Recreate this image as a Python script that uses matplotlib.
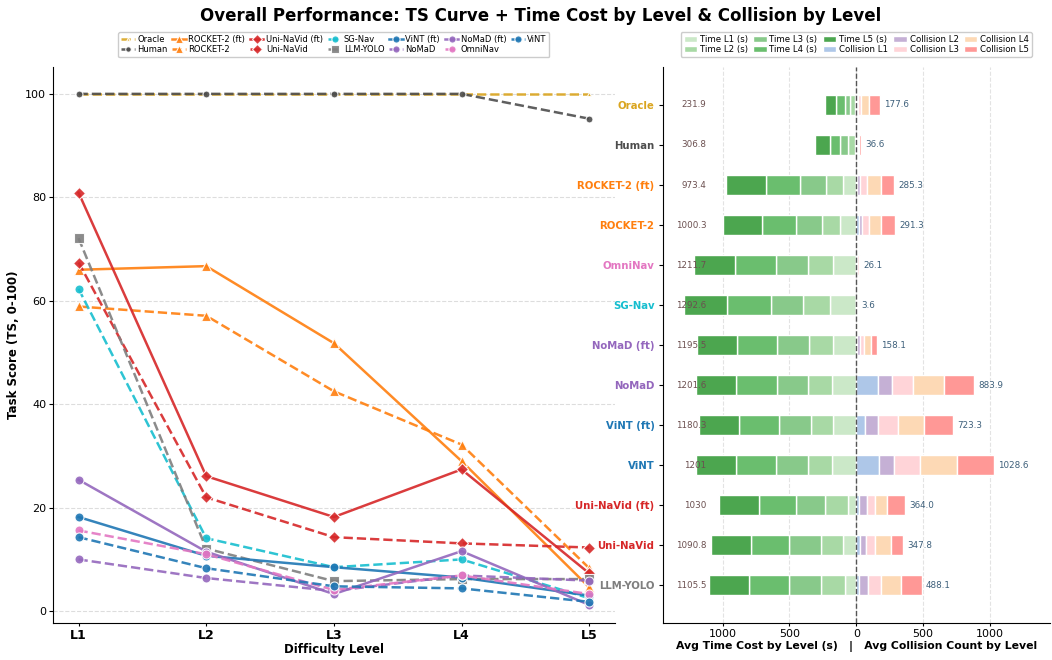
import matplotlib
matplotlib.use("Agg")
import matplotlib.pyplot as plt
import numpy as np

# ---- task score curves (left panel) ----
levels = ['L1', 'L2', 'L3', 'L4', 'L5']

# legend order (column-major, 7 columns)
curve_names = ['Oracle', 'Human', 'ROCKET-2 (ft)', 'ROCKET-2', 'Uni-NaVid (ft)', 'Uni-NaVid',
               'SG-Nav', 'LLM-YOLO', 'ViNT (ft)', 'NoMaD', 'NoMaD (ft)', 'OmniNav', 'ViNT']
ts_oracle = [100, 100, 100, 100, 100]
ts_human = [100, 100, 100, 100, 95.2]
ts_rocket_ft = [66.0, 66.7, 51.8, 29.0, 4.6]
ts_rocket = [58.9, 57.1, 42.5, 32.2, 8.3]
ts_uninavid_ft = [80.9, 26.1, 18.2, 27.4, 7.3]
ts_uninavid = [67.4, 22.0, 14.3, 13.1, 12.3]
ts_sgnav = [62.3, 14.1, 8.5, 10.0, 2.5]
ts_llmyolo = [72.1, 12.1, 5.8, 6.2, 6.2]
ts_vint_ft = [18.2, 10.7, 8.5, 6.5, 3.0]
ts_nomad = [10.0, 6.4, 3.9, 6.9, 5.9]
ts_nomad_ft = [25.4, 11.5, 3.3, 11.6, 1.2]
ts_omninav = [15.6, 11.0, 4.1, 6.9, 3.3]
ts_vint = [14.3, 8.3, 4.8, 4.4, 1.8]

# ---- time / collision per level (right panel), top to bottom ----
methods = ['Oracle', 'Human', 'ROCKET-2 (ft)', 'ROCKET-2', 'OmniNav', 'SG-Nav', 'NoMaD (ft)',
           'NoMaD', 'ViNT (ft)', 'ViNT', 'Uni-NaVid (ft)', 'Uni-NaVid', 'LLM-YOLO']
time_l1 = [12, 10, 102, 125, 174, 197, 174, 179, 172, 179, 65, 102, 87]
time_l2 = [33, 50, 125, 129, 187, 199, 179, 179, 169, 179, 167, 162, 177]
time_l3 = [43, 61, 194, 197, 242, 239, 237, 239, 239, 242, 222, 237, 239]
time_l4 = [64, 76, 251, 254, 304, 334, 306, 304, 299, 301, 274, 286, 299]
time_l5 = [79.9, 109.8, 301.4, 295.3, 304.7, 323.6, 299.5, 300.6, 301.3, 300, 302, 303.8, 303.5]
time_total = [231.9, 306.8, 973.4, 1000.3, 1211.7, 1292.6, 1195.5, 1201.6, 1180.3, 1201, 1030, 1090.8, 1105.5]

coll_l1 = [2, 0.5, 7, 17, 1, 0.5, 7, 159, 65, 169, 20, 27, 22]
coll_l2 = [8, 1, 17, 22, 2, 0.5, 20, 110, 95, 112, 62, 45, 67]
coll_l3 = [25, 8, 55, 57, 18, 1, 32, 157, 149, 199, 60, 67, 97]
coll_l4 = [57, 7, 102, 88, 3, 1, 50, 229, 194, 271, 90, 122, 149]
coll_l5 = [85.6, 20.1, 104.3, 107.3, 2.1, 0.6, 49.1, 228.9, 220.3, 277.6, 132, 86.8, 153.1]

colors = {
    'Oracle': '#DAA520', 'Human': '#4d4d4d',
    'ROCKET-2 (ft)': '#ff7f0e', 'ROCKET-2': '#ff7f0e',
    'Uni-NaVid (ft)': '#d62728', 'Uni-NaVid': '#d62728',
    'SG-Nav': '#17becf', 'LLM-YOLO': '#7f7f7f',
    'ViNT (ft)': '#1f77b4', 'ViNT': '#1f77b4',
    'NoMaD (ft)': '#9467bd', 'NoMaD': '#9467bd',
    'OmniNav': '#e377c2',
}
markers = {
    'Oracle': '^', 'Human': 'o', 'ROCKET-2 (ft)': '^', 'ROCKET-2': '^',
    'Uni-NaVid (ft)': 'D', 'Uni-NaVid': 'D', 'SG-Nav': 'o', 'LLM-YOLO': 's',
    'ViNT (ft)': 'o', 'ViNT': 'o', 'NoMaD (ft)': 'o', 'NoMaD': 'o', 'OmniNav': 'o',
}
curves = [ts_oracle, ts_human, ts_rocket_ft, ts_rocket, ts_uninavid_ft, ts_uninavid,
          ts_sgnav, ts_llmyolo, ts_vint_ft, ts_nomad, ts_nomad_ft, ts_omninav, ts_vint]

fig = plt.figure(figsize=(10.52, 6.6), dpi=100)
ax1 = fig.add_axes([0.0504, 0.056, 0.534, 0.8425])
ax2 = fig.add_axes([0.630, 0.056, 0.368, 0.8425])

x = np.arange(len(levels))
for name, vals in zip(curve_names, curves):
    ls = '-' if '(ft)' in name else '--'
    ms = 3 if name == 'Oracle' else (5 if name == 'Human' else 6.5)
    z = 2 if name == 'Oracle' else 3
    ax1.plot(x, vals, linestyle=ls, marker=markers[name], color=colors[name], lw=1.8,
             markersize=ms, markeredgecolor='white', markeredgewidth=0.8, label=name,
             alpha=0.9, zorder=z)

ax1.set_xlim(-0.2, 4.2)
ax1.set_ylim(-2.3, 105.2)
ax1.set_xticks(x)
ax1.set_xticklabels(levels, fontweight='bold', fontsize=9)
ax1.set_yticks([0, 20, 40, 60, 80, 100])
ax1.tick_params(axis='y', labelsize=8, length=3, pad=2)
ax1.tick_params(axis='x', length=2, pad=2)
ax1.set_xlabel('Difficulty Level', fontweight='bold', fontsize=8.5, labelpad=1)
ax1.set_ylabel('Task Score (TS, 0-100)', fontweight='bold', fontsize=8.5)
ax1.grid(axis='y', linestyle='--', color='#dddddd', lw=0.8)
ax1.spines['top'].set_visible(False)
ax1.spines['right'].set_visible(False)
ax1.legend(loc='lower center', bbox_to_anchor=(0.5, 1.01), ncol=7, fontsize=6,
           handlelength=1.6, columnspacing=0.6, handletextpad=0.3, borderpad=0.35,
           labelspacing=0.15, framealpha=1, edgecolor='#cccccc', markerscale=0.8)

# ---- right panel: time to the left, collisions to the right ----
y = np.arange(len(methods))
time_colors = ['#cbe8c8', '#a8d9a5', '#88c98a', '#6abe6e', '#4ca64f']
coll_colors = ['#aec7e8', '#c5b0d5', '#ffd4d8', '#fdd9b5', '#ff9896']
bh = 0.5

left = np.zeros(len(methods))
for i, t in enumerate([time_l1, time_l2, time_l3, time_l4, time_l5]):
    t = np.array(t)
    ax2.barh(y, -t, left=-left, height=bh, color=time_colors[i], edgecolor='white',
             linewidth=1, label=f'Time L{i + 1} (s)', zorder=2)
    left = left + t

left = np.zeros(len(methods))
for i, c in enumerate([coll_l1, coll_l2, coll_l3, coll_l4, coll_l5]):
    c = np.array(c)
    ax2.barh(y, c, left=left, height=bh, color=coll_colors[i], edgecolor='white',
             linewidth=1, label=f'Collision L{i + 1}', zorder=2)
    left = left + c

for yi, tt in zip(y, time_total):
    ax2.text(-1120, yi, f'{tt:g}', ha='right', va='center', fontsize=6.3, color='#6b4f4f')
for yi, ct in zip(y, left):
    ax2.text(ct + 30, yi, f'{ct:.1f}', ha='left', va='center', fontsize=6.3, color='#3d5f7a')

ax2.axvline(0, color='#555555', linestyle='--', lw=1, zorder=3)
ax2.set_xlim(-1448, 1448)
ax2.set_ylim(len(methods) - 0.05, -0.95)
ax2.set_yticks(y)
ax2.set_yticklabels(methods, fontweight='bold', fontsize=7.3)
for lbl, name in zip(ax2.get_yticklabels(), methods):
    lbl.set_color(colors[name])
ax2.set_xticks([-1000, -500, 0, 500, 1000])
ax2.set_xticklabels(['1000', '500', '0', '500', '1000'], fontsize=8)
ax2.tick_params(axis='x', length=2, pad=2)
ax2.tick_params(axis='y', length=3, pad=3)
ax2.set_xlabel('Avg Time Cost by Level (s)   |   Avg Collision Count by Level',
               fontweight='bold', fontsize=7.8, labelpad=2)
ax2.grid(axis='x', linestyle='--', color='#e3e3e3', lw=0.8, zorder=0)
ax2.set_axisbelow(True)
ax2.spines['top'].set_visible(False)
ax2.spines['right'].set_visible(False)
ax2.legend(loc='lower center', bbox_to_anchor=(0.5, 1.01), ncol=5, fontsize=6.2,
           handlelength=1.6, columnspacing=0.6, handletextpad=0.3, borderpad=0.35,
           labelspacing=0.15, framealpha=1, edgecolor='#cccccc')

fig.suptitle('Overall Performance: TS Curve + Time Cost by Level & Collision by Level',
             fontweight='bold', fontsize=12, x=0.514, y=0.99)

plt.savefig('out.png', dpi=100)
